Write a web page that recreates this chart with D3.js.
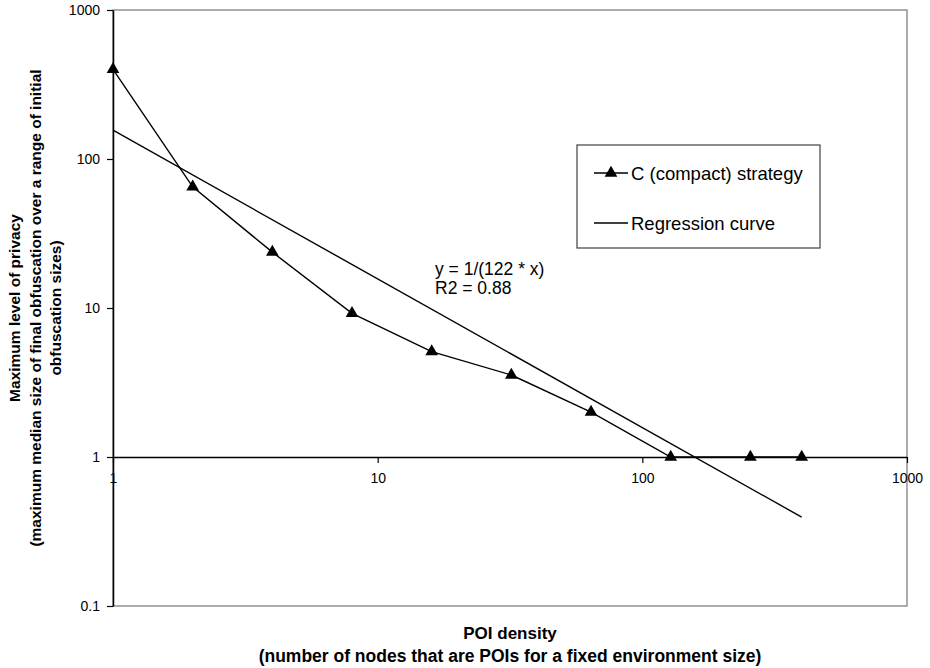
<html lang="en">
<head>
  <meta charset="UTF-8">
  <title>POI density vs privacy</title>
  <script src="https://d3js.org/d3.v7.min.js"></script>
  <style>
    body { margin: 0; background: white; }
    text { font-family: "Liberation Sans", Arial, sans-serif; fill: black; }
  </style>
</head>
<body>
  <svg class="chart" width="930" height="668"></svg>
  <script>
    // values
    const poiDensity = [1, 2, 4, 8, 16, 32, 64, 128, 256, 400];
    const privacyLevel = [400, 65, 23.7, 9.2, 5.1, 3.55, 2.0, 1, 1, 1];
    const regressionX = [1, 400];
    const regressionY = [156, 0.395];
    const xTicks = [1, 10, 100, 1000];
    const yTicks = [0.1, 1, 10, 100, 1000];
    const seriesNames = ['C (compact) strategy', 'Regression curve'];
    const fitLabel = ['y = 1/(122 * x)', 'R2 = 0.88'];

    const svg = d3.select('svg.chart');
    const plotLeft = 113, plotRight = 907, plotTop = 10, plotBottom = 606;

    const x = d3.scaleLog().domain([1, 1000]).range([plotLeft, plotRight]);
    const y = d3.scaleLog().domain([0.1, 1000]).range([plotBottom, plotTop]);

    // frame (grey top/right/bottom)
    svg.append('rect')
      .attr('x', plotLeft).attr('y', plotTop)
      .attr('width', plotRight - plotLeft).attr('height', plotBottom - plotTop)
      .attr('fill', 'none').attr('stroke', '#808080').attr('stroke-width', 1.3);

    const fmt = d => d3.format('~g')(d);

    let yAxis = svg.append('g')
      .attr('transform', `translate(${plotLeft},0)`)
      .call(d3.axisLeft(y).tickValues(yTicks).tickFormat(fmt).tickSize(6).tickSizeOuter(0).tickPadding(7));
    let xAxis = svg.append('g')
      .attr('transform', `translate(0,${y(1)})`)
      .call(d3.axisBottom(x).tickValues(xTicks).tickFormat(fmt).tickSize(6).tickSizeOuter(0).tickPadding(10));
    [yAxis, xAxis].forEach(g => {
      g.select('.domain').attr('stroke', 'black').attr('stroke-width', 1.5);
      g.selectAll('.tick line').attr('stroke', 'black').attr('stroke-width', 1.2);
      g.selectAll('.tick text').style('font-size', '14px').style('font-family', '"Liberation Sans", Arial, sans-serif').attr('fill', 'black');
    });

    // regression line
    svg.append('path')
      .datum(regressionX.map((d, i) => [d, regressionY[i]]))
      .attr('fill', 'none').attr('stroke', 'black').attr('stroke-width', 1.4)
      .attr('d', d3.line().x(d => x(d[0])).y(d => y(d[1])));

    // data line + markers
    const pts = poiDensity.map((d, i) => [d, privacyLevel[i]]);
    svg.append('path')
      .datum(pts)
      .attr('fill', 'none').attr('stroke', 'black').attr('stroke-width', 1.4)
      .attr('d', d3.line().x(d => x(d[0])).y(d => y(d[1])));
    const tri = d3.symbol(d3.symbolTriangle).size(70);
    svg.selectAll('path.mark').data(pts).join('path')
      .attr('class', 'mark')
      .attr('transform', d => `translate(${x(d[0])},${y(d[1])})`)
      .attr('d', tri);

    // fit annotation
    svg.append('text').attr('x', 435).attr('y', 275).style('font-size', '17.5px').text(fitLabel[0]);
    svg.append('text').attr('x', 435).attr('y', 294).style('font-size', '17.5px').text(fitLabel[1]);

    // legend
    let legend = svg.append('g');
    legend.append('rect').attr('x', 577).attr('y', 145).attr('width', 243).attr('height', 103)
      .attr('fill', 'white').attr('stroke', '#404040').attr('stroke-width', 1.2);
    legend.append('line').attr('x1', 594).attr('x2', 628).attr('y1', 173).attr('y2', 173)
      .attr('stroke', 'black').attr('stroke-width', 1.4);
    legend.append('path').attr('transform', 'translate(611,173)').attr('d', tri);
    legend.append('text').attr('x', 631).attr('y', 180).style('font-size', '18.5px').text(seriesNames[0]);
    legend.append('line').attr('x1', 594).attr('x2', 628).attr('y1', 223).attr('y2', 223)
      .attr('stroke', 'black').attr('stroke-width', 1.4);
    legend.append('text').attr('x', 631).attr('y', 230).style('font-size', '18.5px').text(seriesNames[1]);

    // axis titles
    const cx = (plotLeft + plotRight) / 2, cy = (plotTop + plotBottom) / 2;
    svg.append('text').attr('x', cx).attr('y', 639).attr('text-anchor', 'middle')
      .style('font-size', '17px').style('font-weight', 'bold').text('POI density');
    svg.append('text').attr('x', cx).attr('y', 662).attr('text-anchor', 'middle')
      .style('font-size', '17.5px').style('font-weight', 'bold')
      .text('(number of nodes that are POIs for a fixed environment size)');

    const yTitle = ['Maximum level of privacy',
      '(maximum median size of final obfuscation over a range of initial',
      'obfuscation sizes)'];
    yTitle.forEach((t, i) => {
      svg.append('text')
        .attr('transform', `translate(${20 + i * 20.7},${cy}) rotate(-90)`)
        .attr('text-anchor', 'middle')
        .style('font-size', '15.5px').style('font-weight', 'bold')
        .text(t);
    });
  </script>
</body>
</html>
